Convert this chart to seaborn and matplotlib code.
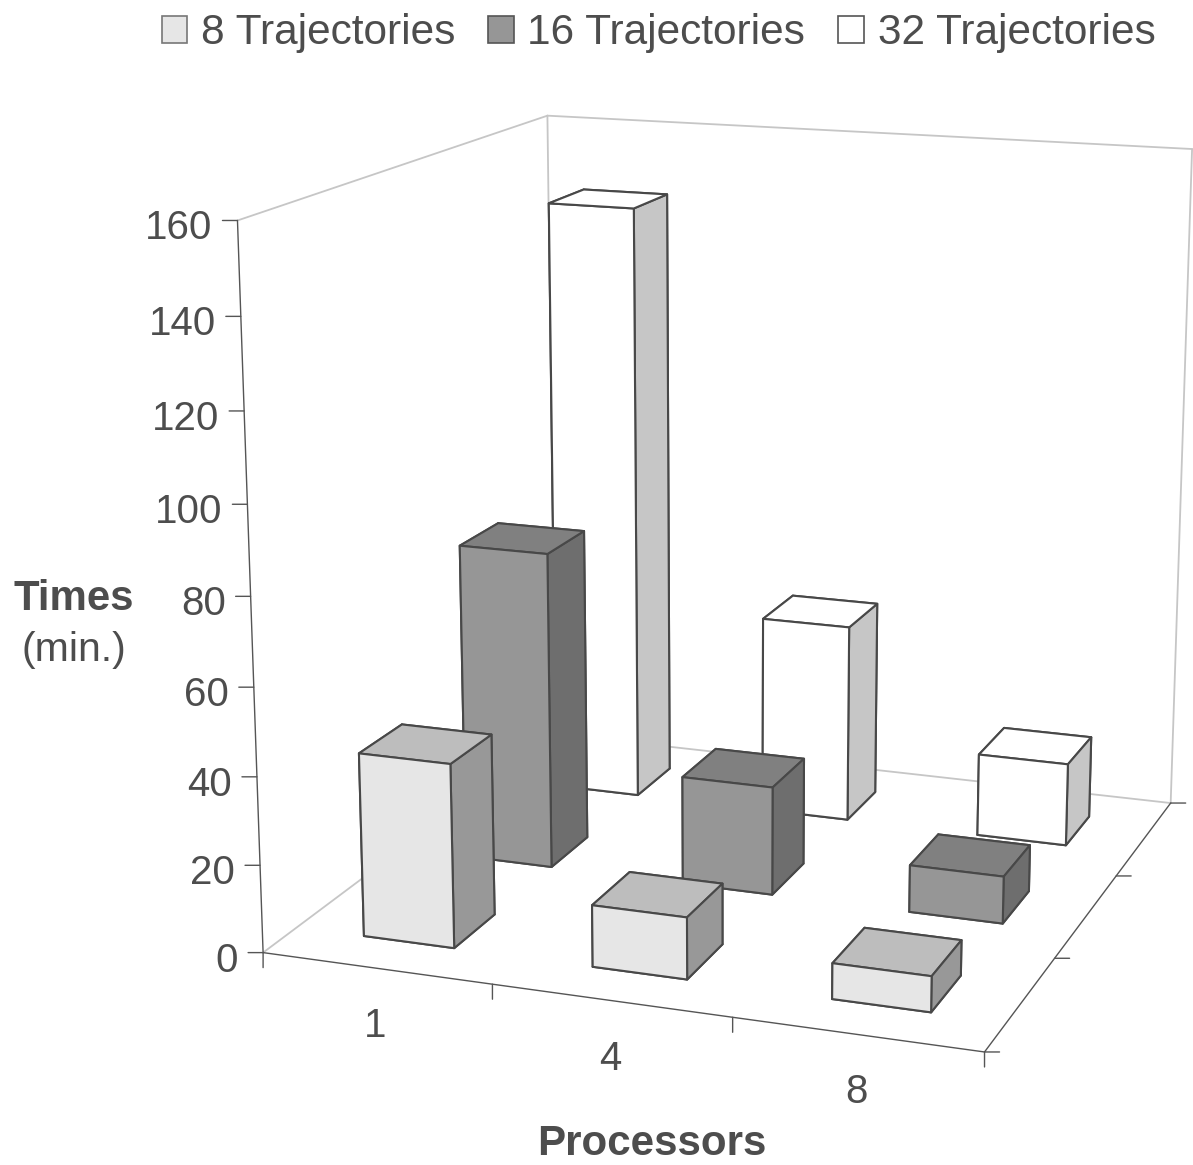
import matplotlib
matplotlib.use('Agg')
import matplotlib.pyplot as plt
import seaborn as sns
from matplotlib.patches import Patch
from mpl_toolkits.mplot3d import proj3d

# values
processors = ['1', '4', '8']
series = ['8 Trajectories', '16 Trajectories', '32 Trajectories']
times_8 = [42, 14, 8]
times_16 = [74.8, 25.5, 11]
times_32 = [145, 48, 20]
z_ticks = [0, 20, 40, 60, 80, 100, 120, 140, 160]

# front, top, right shades per series
front_cols = ['#e6e6e6', '#969696', '#ffffff']
top_cols = ['#bdbdbd', '#808080', '#ffffff']
side_cols = ['#989898', '#6e6e6e', '#c6c6c6']

sns.set_theme(style='white', font='Liberation Sans')
text_col = '#4d4d4d'
dark = '#555555'
wall = '#c6c6c6'
edge = '#484848'

W, H = 1193, 1165
fig = plt.figure(figsize=(W / 100, H / 100), dpi=100)

# camera fitted to the corners of the chart box, axes runs past the figure on purpose
size = 1215.98
left, top = 119.53, -54.9
ax = fig.add_axes([left / W, 1 - (top + size) / H, size / W, size / H], projection='3d')
ax.set_xlim(0, 3)
ax.set_ylim(0, 3)
ax.set_zlim(0, 160)
ax.view_init(elev=14.635, azim=-70.346, roll=-0.06)
ax.set_proj_type('persp', focal_length=0.546)
ax.set_box_aspect((0.985, 1, 0.973))
ax.set_axis_off()
ax.computed_zorder = False

# walls and floor outline
for a, b in [((0, 0, 160), (0, 3, 160)), ((0, 3, 160), (3, 3, 160)), ((0, 0, 0), (0, 3, 0)),
             ((0, 3, 0), (3, 3, 0)), ((0, 3, 0), (0, 3, 160)), ((3, 3, 0), (3, 3, 160))]:
    ax.plot(*zip(a, b), color=wall, lw=1.3, zorder=1, clip_on=False)
for a, b in [((0, 0, 0), (0, 0, 160)), ((0, 0, 0), (3, 0, 0)), ((3, 0, 0), (3, 3, 0))]:
    ax.plot(*zip(a, b), color=dark, lw=1.0, zorder=2, clip_on=False)

# bars, back row first
rows = [times_8, times_16, times_32]
for j in [2, 1, 0]:
    for i, v in enumerate(rows[j]):
        # -z, +z, -y, +y, -x, +x
        cols = ['#ffffff', top_cols[j], front_cols[j], '#ffffff', '#ffffff', side_cols[j]]
        bar = ax.bar3d(i + 0.3, j + 0.3, 0, 0.4, 0.4, v, color=cols, shade=False,
                       edgecolor=edge, linewidth=1.5, zorder=6 - j)
        bar.set_clip_on(False)


def project(x, y, z):
    px, py, _ = proj3d.proj_transform(x, y, z, ax.get_proj())
    return px, py


def tick(x, y, z, dx, dy):
    ax.annotate('', xy=project(x, y, z), xytext=(dx, dy), textcoords='offset pixels',
                annotation_clip=False,
                arrowprops=dict(arrowstyle='-', color=dark, lw=1.0, shrinkA=0, shrinkB=0))


for z in z_ticks:
    tick(0, 0, z, -15, 0)
    ax.annotate(str(z), xy=project(0, 0, z), xytext=(-25, -8), textcoords='offset pixels',
                ha='right', va='center', fontsize=29, color=text_col, annotation_clip=False)
for x in range(4):
    tick(x, 0, 0, 0, -15)
for y in range(4):
    tick(3, y, 0, 15, 0)
for i, name in enumerate(processors):
    ax.annotate(name, xy=project(i + 0.5, 0, 0), xytext=(-1, -58), textcoords='offset pixels',
                ha='center', va='center', fontsize=29, color=text_col, annotation_clip=False)

fig.text(74 / W, 1 - 599 / H, 'Times', ha='center', va='center', fontsize=30.2,
         fontweight='bold', color=text_col)
fig.text(74 / W, 1 - 650 / H, '(min.)', ha='center', va='center', fontsize=29.5, color=text_col)
fig.text(652 / W, 1 - 1144 / H, 'Processors', ha='center', va='center', fontsize=30.3,
         fontweight='bold', color=text_col)

handles = [Patch(facecolor=c, edgecolor=e, linewidth=1.2, label=s)
           for c, e, s in zip(front_cols, ['#777777', '#555555', '#555555'], series)]
fig.legend(handles=handles, loc='center left', bbox_to_anchor=(161.5 / W, 1 - 33 / H), ncol=3,
           frameon=False, fontsize=30.5, labelcolor=text_col, borderaxespad=0, borderpad=0,
           handlelength=0.6, handleheight=0.6, handletextpad=0.33, columnspacing=0.775)

fig.savefig('out.png', dpi=100)
